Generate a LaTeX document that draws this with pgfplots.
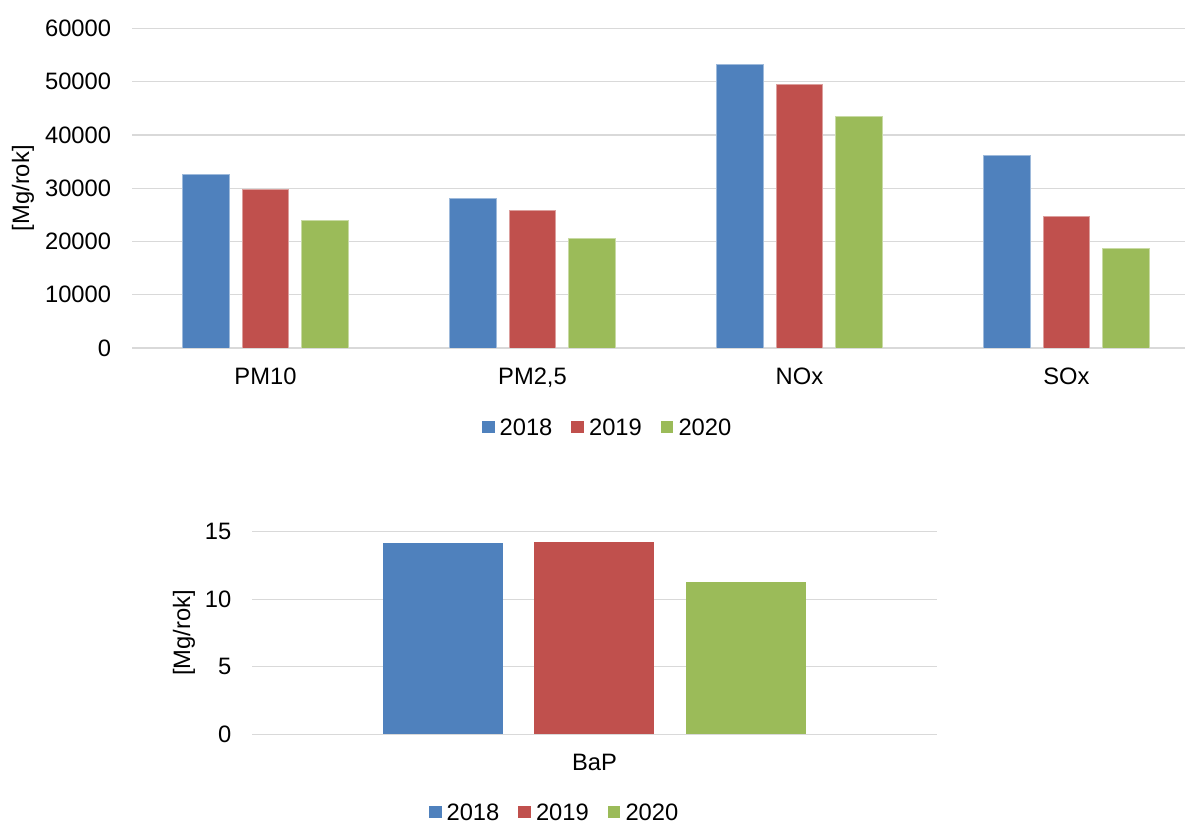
\documentclass[border=0pt]{standalone}
\usepackage{fontspec}
\setmainfont{Liberation Sans}
\usepackage{pgfplots}
\pgfplotsset{compat=1.18}
\definecolor{cA}{HTML}{4F81BD}
\definecolor{cB}{HTML}{C0504D}
\definecolor{cC}{HTML}{9BBB59}
\definecolor{gridg}{HTML}{D9D9D9}
\newcommand\ff{\fontsize{17.8pt}{21pt}\selectfont}
\pgfplotsset{
  mychart/.style={
    scale only axis,
    anchor=south west,
    axis line style={draw=none},
    major tick length=0pt,
    ymajorgrids,
    major grid style={draw=gridg, line width=1pt},
    ymin=0,
    scaled ticks=false,
    /pgf/number format/assume math mode=true,
    /pgf/number format/1000 sep={},
    tick label style={font=\ff},
    yticklabel style={inner sep=0pt, xshift=-15.5pt},
    xticklabel style={inner sep=0pt, anchor=north, yshift=-14.8pt},
    legend columns=3,
    legend style={draw=none, fill=none, inner sep=0pt, outer sep=0pt, font=\ff,
      nodes={inner sep=0pt, text depth=0pt},
      /tikz/every odd column/.append style={column sep=3.8pt},
      /tikz/every even column/.append style={column sep=14.3pt}},
  },
  sq/.style={legend image code/.code={\path[##1,draw=none] (0pt,-4.7pt) rectangle (9.4pt,4.7pt);}},
}
\begin{document}
\begin{tikzpicture}
\useasboundingbox (0,0) rectangle (891pt,618pt);
\begin{axis}[mychart,
  at={(99pt,357pt)}, width=789.75pt, height=239.6pt,
  xmin=-0.5, xmax=3.444,
  ymax=60000, ytick={0,10000,20000,30000,40000,50000,60000},
  xtick={0,1,2,3}, xticklabels={PM10,{PM2,5},NOx,SOx},
  ybar=9.5pt, bar width=35pt,
  ylabel={[Mg/rok]},
  every axis y label/.style={at={(axis description cs:-0.1035,0.5)}, anchor=center, rotate=90, font=\ff},
  legend style={at={(0.3324,-0.2475)}, anchor=west},
]
\addplot[sq, fill=cA, draw=cA!55!white, line width=0.6pt] coordinates {(0,32600) (1,28150) (2,53200) (3,36200)};
\addplot[sq, fill=cB, draw=cB!55!white, line width=0.6pt] coordinates {(0,29700) (1,25800) (2,49500) (3,24700)};
\addplot[sq, fill=cC, draw=cC!55!white, line width=0.6pt] coordinates {(0,24000) (1,20500) (2,43500) (3,18700)};
\legend{2018,2019,2020}
\end{axis}
\begin{axis}[mychart,
  at={(189.2pt,67.3pt)}, width=513.3pt, height=151.95pt,
  xmin=-1, xmax=1,
  ymax=15, ytick={0,5,10,15},
  xtick={0}, xticklabels={BaP},
  ybar=23.6pt, bar width=90pt,
  ylabel={[Mg/rok]},
  every axis y label/.style={at={(axis description cs:-0.0998,0.5)}, anchor=center, rotate=90, font=\ff},
  legend style={at={(0.2582,-0.384)}, anchor=west},
]
\addplot[sq, fill=cA, draw=none] coordinates {(0,14.16)};
\addplot[sq, fill=cB, draw=none] coordinates {(0,14.23)};
\addplot[sq, fill=cC, draw=none] coordinates {(0,11.27)};
\legend{2018,2019,2020}
\end{axis}
\end{tikzpicture}
\end{document}
